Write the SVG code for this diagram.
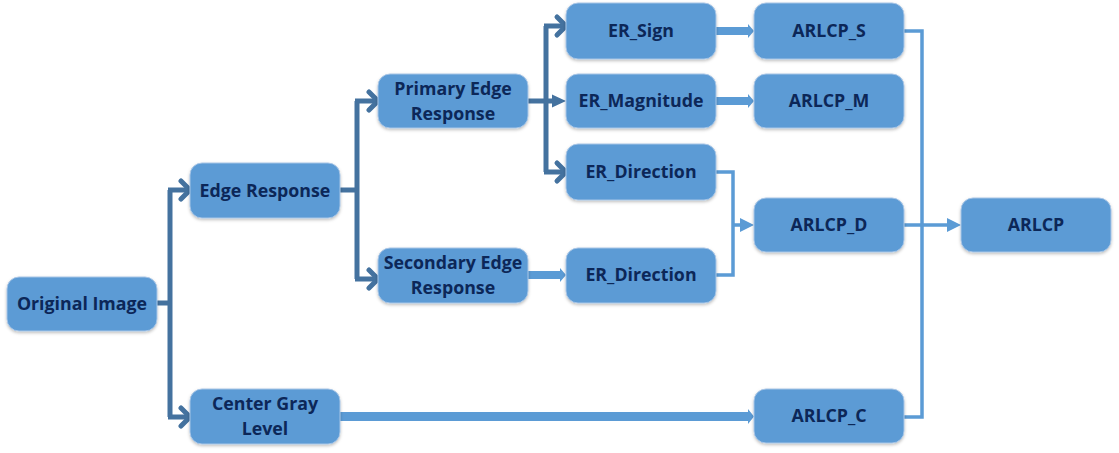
<svg xmlns="http://www.w3.org/2000/svg" width="1119" height="453" viewBox="0 0 1119 453">
<defs>
<filter id="sh" x="-10%" y="-10%" width="120%" height="130%">
<feDropShadow dx="0" dy="1.5" stdDeviation="1.5" flood-color="#000" flood-opacity="0.25"/>
</filter>
</defs>
<style>
.box{fill:#5b9bd5;stroke:#a8c5e6;stroke-width:1;filter:url(#sh)}
.t{font-family:"Open Sans","Liberation Sans",sans-serif;font-weight:700;font-size:17.8px;fill:#0c2758;text-anchor:middle}
.dk{fill:none;stroke:#44729f;stroke-width:5;stroke-linejoin:miter}
.chev{fill:none;stroke:#44729f;stroke-width:5;stroke-linecap:round;stroke-linejoin:miter}
.lt{fill:none;stroke:#5b9bd5;stroke-width:3.5}
.lf{fill:#5b9bd5}
.df{fill:#44729f}
</style>
<rect width="1119" height="453" fill="#fff"/>
<g id="connectors">
<path class="dk" d="M157,303 H170 M170,190 V417 M168,190 H189 M168,417 H189"/>
<path class="chev" d="M181,181 L190,190 L181,199 M181,408 L190,417 L181,426"/>
<path class="dk" d="M340,190 H357 M357,101 V279 M355,101 H377 M355,279 H377"/>
<path class="chev" d="M369,92 L378,101 L369,110 M369,270 L378,279 L369,288"/>
<path class="dk" d="M528,101 H553 M546,26 V172 M544,26 H565 M544,172 H565"/>
<path class="chev" d="M557,17 L566,26 L557,35 M557,163 L566,172 L557,181"/>
<polygon class="df" points="552,94.5 566,101 552,107.5"/>
<polygon class="lf" points="716,27 748,27 748,24 754,31 748,38 748,35 716,35"/>
<polygon class="lf" points="716,97 748,97 748,94 754,101 748,108 748,105 716,105"/>
<polygon class="lf" points="528,271 560,271 560,268 566,275 560,282 560,279 528,279"/>
<polygon class="lf" points="340,412 748,412 748,409 754,416.5 748,424 748,421 340,421"/>
<path class="lt" d="M716,172 H733 V275 H716 M733,225 H742"/>
<polygon class="lf" points="740,218 754,225 740,232"/>
<path class="lt" d="M904,31 H922 V417 H904 M904,225 H949"/>
<polygon class="lf" points="947,218 961,225 947,232"/>
</g>
<g id="n-original"><rect class="box" x="7" y="277" width="150" height="54" rx="12"/><text class="t" x="82" y="310">Original Image</text></g>
<g id="n-edge"><rect class="box" x="190" y="163" width="150" height="55" rx="12"/><text class="t" x="265" y="197">Edge Response</text></g>
<g id="n-center"><rect class="box" x="190" y="389" width="150" height="55" rx="12"/><text class="t" x="265" y="410">Center Gray</text><text class="t" x="265" y="435">Level</text></g>
<g id="n-primary"><rect class="box" x="378" y="74" width="150" height="54" rx="12"/><text class="t" x="453" y="95">Primary Edge</text><text class="t" x="453" y="120">Response</text></g>
<g id="n-secondary"><rect class="box" x="378" y="248" width="150" height="55" rx="12"/><text class="t" x="453" y="269">Secondary Edge</text><text class="t" x="453" y="294">Response</text></g>
<g id="n-ersign"><rect class="box" x="566" y="3" width="150" height="56" rx="12"/><text class="t" x="641" y="37">ER_Sign</text></g>
<g id="n-ermag"><rect class="box" x="566" y="74" width="150" height="54" rx="12"/><text class="t" x="641" y="107">ER_Magnitude</text></g>
<g id="n-erdir1"><rect class="box" x="566" y="144" width="150" height="56" rx="12"/><text class="t" x="641" y="178">ER_Direction</text></g>
<g id="n-erdir2"><rect class="box" x="566" y="248" width="150" height="55" rx="12"/><text class="t" x="641" y="281">ER_Direction</text></g>
<g id="n-arlcps"><rect class="box" x="754" y="3" width="150" height="56" rx="12"/><text class="t" x="829" y="37">ARLCP_S</text></g>
<g id="n-arlcpm"><rect class="box" x="754" y="74" width="150" height="54" rx="12"/><text class="t" x="829" y="107">ARLCP_M</text></g>
<g id="n-arlcpd"><rect class="box" x="754" y="198" width="150" height="54" rx="12"/><text class="t" x="829" y="231">ARLCP_D</text></g>
<g id="n-arlcpc"><rect class="box" x="754" y="389" width="150" height="54" rx="12"/><text class="t" x="829" y="422">ARLCP_C</text></g>
<g id="n-arlcp"><rect class="box" x="961" y="198" width="150" height="54" rx="12"/><text class="t" x="1036" y="231">ARLCP</text></g>
</svg>
